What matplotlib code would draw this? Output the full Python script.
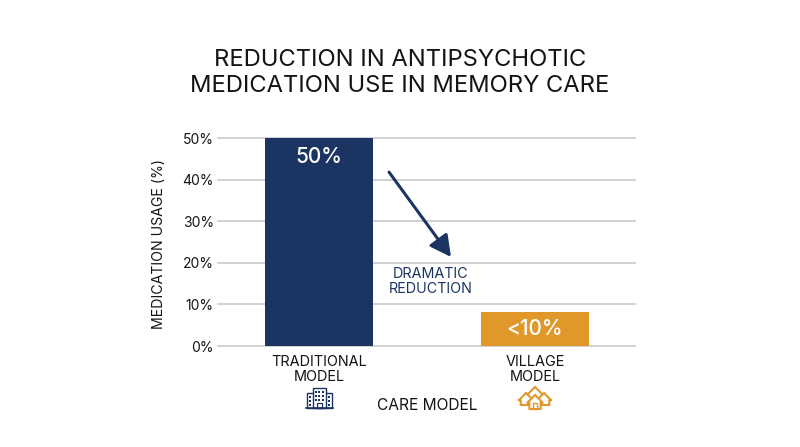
import matplotlib
matplotlib.use("Agg")
import matplotlib.pyplot as plt
from matplotlib.patches import Rectangle, Polygon

categories = ["TRADITIONAL\nMODEL", "VILLAGE\nMODEL"]
values = [50, 8.2]
value_labels = ["50%", "<10%"]
yticks = [0, 10, 20, 30, 40, 50]

navy = "#1c3461"
gold = "#e0982a"
ink = "#141414"
grid = "#c9c9c9"

plt.rcParams["font.family"] = "Inter"

fig = plt.figure(figsize=(8, 4.47), dpi=100)
ax = fig.add_axes([218 / 800, 101 / 447, 417 / 800, 208 / 447])

x = [0, 1]
ax.bar(x, values, width=0.5, color=[navy, gold], zorder=3)
ax.set_xlim(-0.468, 1.463)
ax.set_ylim(0, 50)
ax.set_yticks(yticks)
ax.set_yticklabels([str(t) + "%" for t in yticks], fontsize=10, color=ink)
ax.set_xticks(x)
ax.set_xticklabels(categories, fontsize=10.4, color=ink, linespacing=1.05)
ax.tick_params(axis="both", length=0)
ax.tick_params(axis="x", pad=6.5)
ax.tick_params(axis="y", pad=3)
ax.grid(axis="y", color=grid, linewidth=1.2, zorder=0, clip_on=False)
ax.set_axisbelow(True)
for s in ax.spines.values():
    s.set_visible(False)

ax.set_ylabel("MEDICATION USAGE (%)", fontsize=10.2, color=ink)
ax.yaxis.set_label_coords(-0.125, 0.49)
fig.text(427 / 800, 1 - 405 / 447, "CARE MODEL", fontsize=11.2, color=ink, ha="center", va="center")

ax.text(0, 45.5, value_labels[0], color="white", fontsize=15, fontweight="medium",
        ha="center", va="center", zorder=4)
ax.text(1, 4.2, value_labels[1], color="white", fontsize=15, fontweight="medium",
        ha="center", va="center", zorder=4)

ax.annotate("", xy=(0.611, 21.4), xytext=(0.324, 41.8),
            arrowprops=dict(arrowstyle="-|>,head_length=0.8,head_width=0.42", color=navy, lw=2.2,
                            mutation_scale=16, shrinkA=0, shrinkB=0), zorder=4)
ax.text(0.515, 17.3, "DRAMATIC", color=navy, fontsize=10.3, ha="center", va="center")
ax.text(0.515, 13.7, "REDUCTION", color=navy, fontsize=10.3, ha="center", va="center")

fig.text(400 / 800, 1 - 73 / 447, "REDUCTION IN ANTIPSYCHOTIC\nMEDICATION USE IN MEMORY CARE",
         fontsize=17.1, color=ink, ha="center", va="center", linespacing=1.25)

# icons, drawn in pixel coordinates
icons = fig.add_axes([0, 0, 1, 1])
icons.set_xlim(0, 800)
icons.set_ylim(447, 0)
icons.axis("off")

# office building
icons.add_patch(Rectangle((307, 393), 25, 15, fill=False, ec=navy, lw=1))
icons.add_patch(Rectangle((313, 388), 13, 20, fc="white", ec=navy, lw=1))
icons.plot([306, 333], [408, 408], color=navy, lw=1.2)
for wx in [315, 318.4, 321.8]:
    for wy in [390.5, 394.5, 398.5]:
        icons.add_patch(Rectangle((wx, wy), 2, 2.4, color=navy, lw=0))
for wx in [309, 328]:
    for wy in [396, 400, 404]:
        icons.add_patch(Rectangle((wx, wy), 2.2, 2, color=navy, lw=0))
icons.add_patch(Rectangle((317, 403), 5, 5, fill=False, ec=navy, lw=0.9))

# three houses, back to front
def house(cx, apex, base, half):
    roof = apex + half * 1.0
    body = half * 0.7
    icons.add_patch(Polygon([(cx - half, roof), (cx, apex), (cx + half, roof), (cx + body, roof),
                             (cx + body, base), (cx - body, base), (cx - body, roof)],
                            closed=True, fc="white", ec=gold, lw=1.5, joinstyle="miter"))

house(535, 387, 400, 9)
house(526, 393, 405, 7.5)
house(544, 393, 405, 7.5)
house(535, 395, 409, 8)
icons.add_patch(Rectangle((533, 403), 4, 6, fill=False, ec=gold, lw=1))

fig.savefig("out.png", dpi=100)
